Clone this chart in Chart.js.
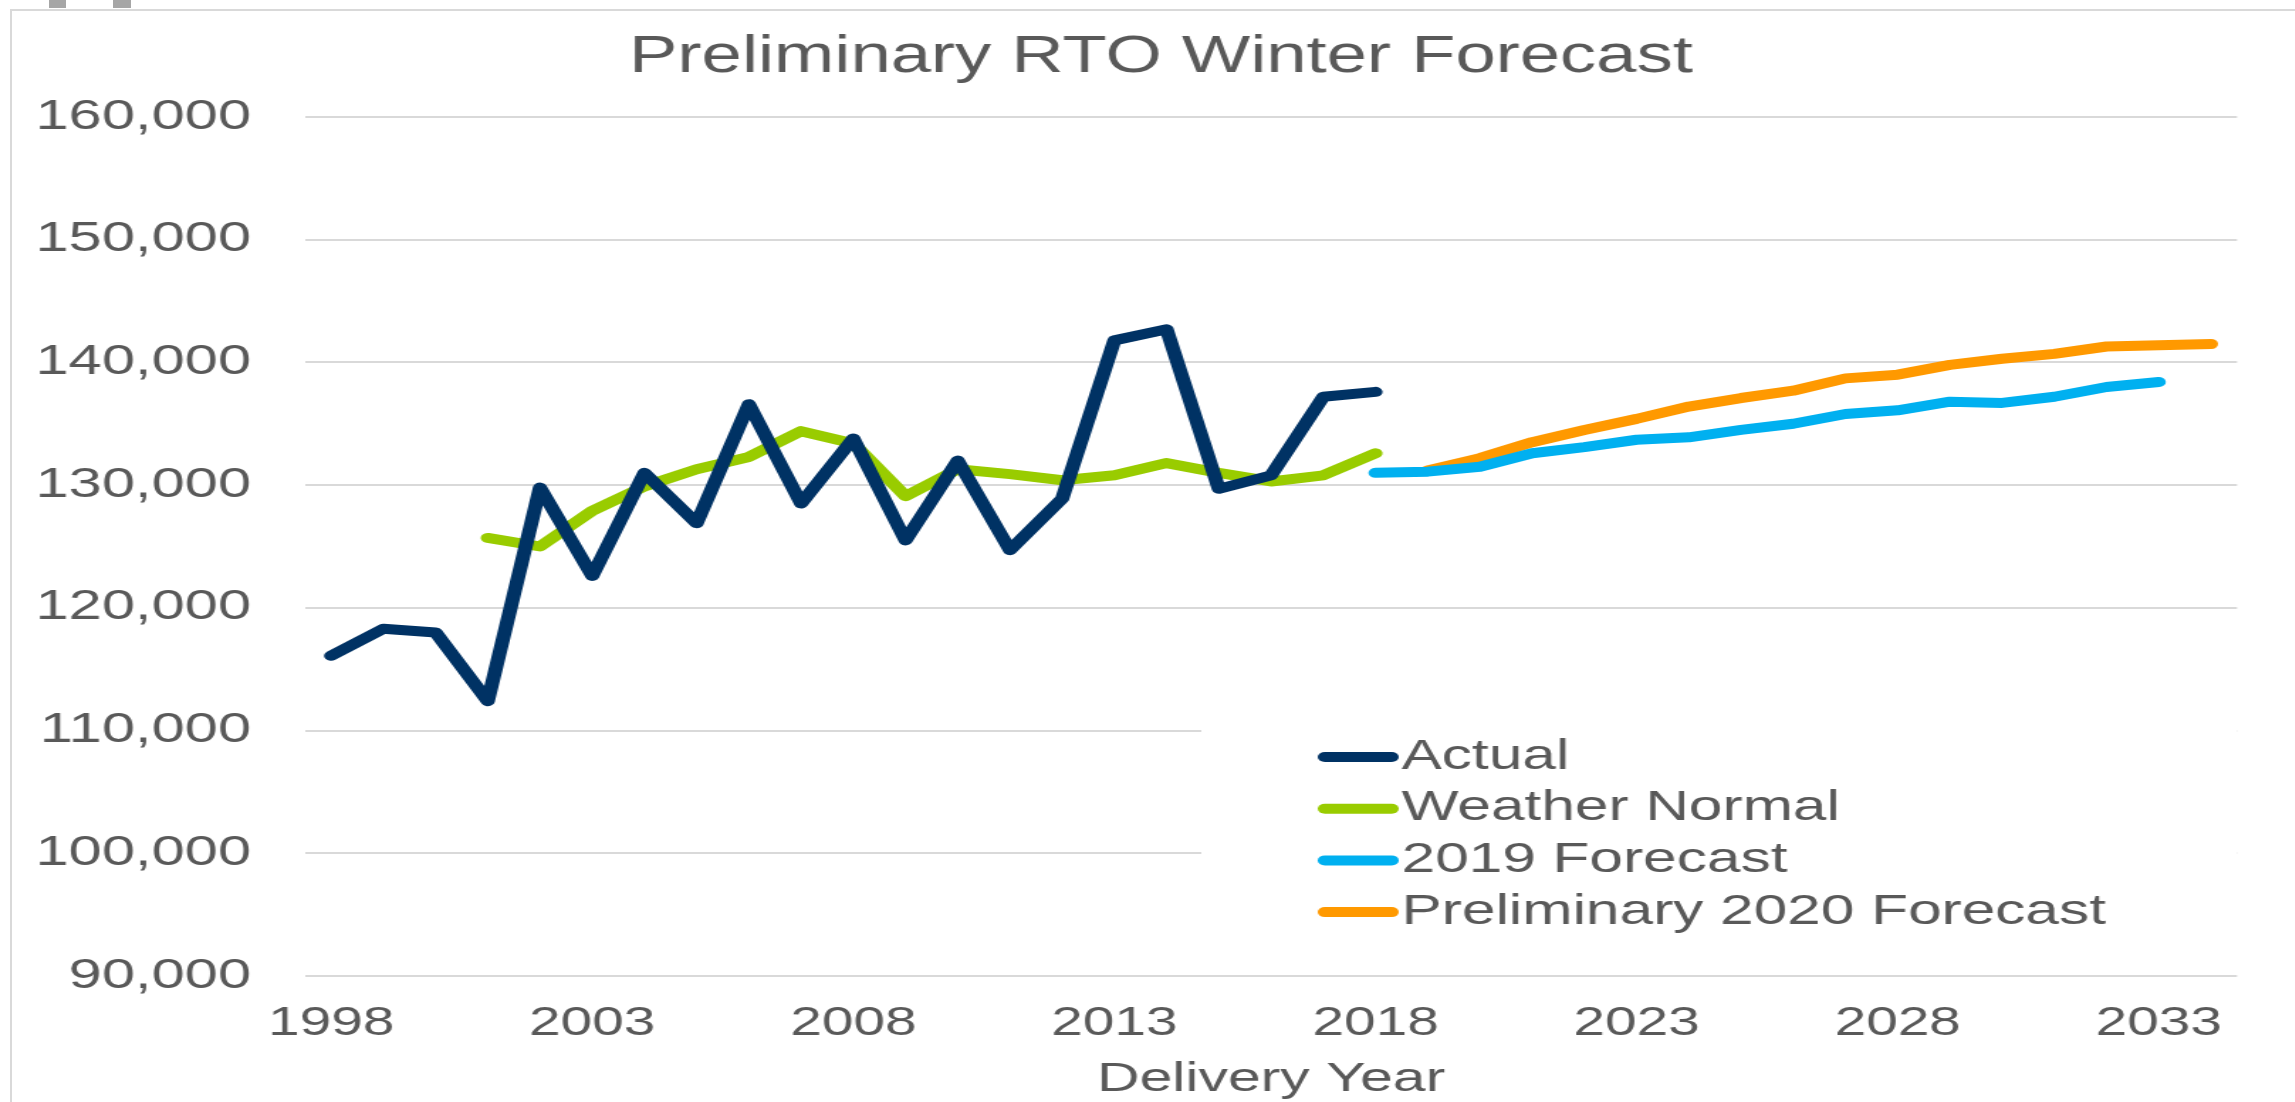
<!DOCTYPE html>
<html lang="en">
<head>
    <meta charset="UTF-8">
    <title>Preliminary RTO Winter Forecast</title>
    <script src="https://cdn.jsdelivr.net/npm/chart.js"></script>
    <style>
        html, body { margin: 0; padding: 0; background: #fff; overflow: hidden; }
        /* light frame of the slide object */
        .frame { position: absolute; left: 10px; top: 9px; width: 2300px; height: 1100px;
                 border-left: 2px solid #d9d9d9; border-top: 2px solid #d9d9d9; }
        .bar { position: absolute; top: 0; height: 8px; background: #a6a6a6; }
        /* the source picture is stretched sideways, so the chart is too */
        .chart-container { position: absolute; left: 0; top: 0; width: 1616px; height: 1102px;
                           transform: scaleX(1.42); transform-origin: 0 0; }
    </style>
</head>
<body>
    <div class="frame"></div>
    <div class="bar" style="left:49px; width:17px;"></div>
    <div class="bar" style="left:113px; width:18px;"></div>
    <div class="chart-container">
        <canvas id="winterChart"></canvas>
    </div>

    <script>
        // Delivery years on the x axis
        const years = ['1998', '1999', '2000', '2001', '2002', '2003', '2004', '2005', '2006', '2007',
                       '2008', '2009', '2010', '2011', '2012', '2013', '2014', '2015', '2016', '2017',
                       '2018', '2019', '2020', '2021', '2022', '2023', '2024', '2025', '2026', '2027',
                       '2028', '2029', '2030', '2031', '2032', '2033', '2034'];
        const tickYears = ['1998', '2003', '2008', '2013', '2018', '2023', '2028', '2033'];

        // Actual, from 1998
        const actual = [116100, 118300, 118000, 112400, 129800, 122600, 131000, 126900, 136600, 128500,
                        133800, 125500, 132000, 124700, 128900, 141800, 142700, 129700, 130800, 137200,
                        137600];
        // Weather Normal, from 2001
        const weatherNormal = [125700, 125000, 127900, 129900, 131300, 132300, 134400, 133400, 129100,
                               131300, 130900, 130400, 130800, 131800, 131000, 130300, 130800, 132600];
        // 2019 Forecast, from 2018
        const forecast2019 = [131000, 131100, 131500, 132600, 133100, 133700, 133900, 134500, 135000,
                              135800, 136100, 136800, 136700, 137200, 138000, 138400];
        // Preliminary 2020 Forecast, from 2019
        const forecast2020 = [131200, 132200, 133500, 134500, 135400, 136400, 137100, 137700, 138700,
                              139000, 139800, 140300, 140700, 141300, 141400, 141500];

        // put a series on the year axis starting at a given year
        function fromYear(start, values) {
            const out = years.map(() => null);
            const i = years.indexOf(start);
            values.forEach((v, k) => { out[i + k] = v; });
            return out;
        }

        const textColor = '#595959';
        const fontFamily = "'Liberation Sans', Arial, sans-serif";

        // legend sits inside the plot, lower right, on a white box
        const legendBox = {
            id: 'legendBox',
            beforeDatasetsDraw(chart) {
                const ctx = chart.ctx;
                ctx.save();
                ctx.fillStyle = '#fff';
                ctx.fillRect(846, 700, chart.chartArea.right - 846, 255);
                ctx.restore();
            },
            afterDraw(chart) {
                const ctx = chart.ctx;
                ctx.save();
                ctx.font = '42.5px ' + fontFamily;
                ctx.textBaseline = 'middle';
                ctx.textAlign = 'left';
                chart.data.datasets.forEach((ds, i) => {
                    const y = 757 + i * 51.7;
                    ctx.strokeStyle = ds.borderColor;
                    ctx.lineWidth = 10;
                    ctx.lineCap = 'round';
                    ctx.beginPath();
                    ctx.moveTo(933, y);
                    ctx.lineTo(980, y);
                    ctx.stroke();
                    ctx.fillStyle = textColor;
                    ctx.fillText(ds.label, 987, y);
                });
                ctx.restore();
            }
        };

        const ctx = document.getElementById('winterChart').getContext('2d');
        const winterChart = new Chart(ctx, {
            type: 'line',
            data: {
                labels: years,
                datasets: [
                    { label: 'Actual', data: fromYear('1998', actual), borderColor: '#003264' },
                    { label: 'Weather Normal', data: fromYear('2001', weatherNormal), borderColor: '#99cc00' },
                    { label: '2019 Forecast', data: fromYear('2018', forecast2019), borderColor: '#00b0f0' },
                    { label: 'Preliminary 2020 Forecast', data: fromYear('2019', forecast2020), borderColor: '#ff9900' }
                ]
            },
            options: {
                responsive: true,
                maintainAspectRatio: false,
                animation: false,
                layout: { padding: { left: 25, right: 5.8, top: 0, bottom: 0 } },
                elements: {
                    point: { radius: 0, hoverRadius: 0 },
                    line: { borderWidth: 10, borderCapStyle: 'round', borderJoinStyle: 'round', tension: 0, fill: false }
                },
                scales: {
                    x: {
                        offset: true,
                        grid: { display: false, drawTicks: false },
                        border: { display: false },
                        ticks: {
                            autoSkip: false,
                            maxRotation: 0,
                            padding: 24,
                            color: textColor,
                            font: { family: fontFamily, size: 40 },
                            callback: (value, index) => tickYears.includes(years[index]) ? years[index] : ''
                        },
                        title: {
                            display: true,
                            text: 'Delivery Year',
                            color: textColor,
                            font: { family: fontFamily, size: 41.5, lineHeight: 1.1 },
                            padding: { top: 0, bottom: 0 }
                        },
                        afterFit(scale) { scale.height = 126; }
                    },
                    y: {
                        min: 90000,
                        max: 160000,
                        grid: { color: '#d9d9d9', lineWidth: 2, drawTicks: false },
                        border: { display: false },
                        ticks: {
                            stepSize: 10000,
                            padding: 38,
                            color: textColor,
                            font: { family: fontFamily, size: 42 },
                            callback: value => value.toLocaleString('en-US')
                        },
                        afterFit(scale) { scale.width = 189.8; }
                    },
                    // empty strip on the right so the title stays centred where it was
                    yRight: {
                        type: 'linear',
                        position: 'right',
                        grid: { display: false, drawTicks: false },
                        border: { display: false },
                        ticks: { display: false },
                        afterFit(scale) { scale.width = 34.8; }
                    }
                },
                plugins: {
                    legend: { display: false },
                    tooltip: { enabled: false },
                    title: {
                        display: true,
                        text: 'Preliminary RTO Winter Forecast',
                        color: textColor,
                        font: { family: fontFamily, size: 51, weight: 'normal' },
                        padding: { top: 27.6, bottom: 28.2 }
                    }
                }
            },
            plugins: [legendBox]
        });
    </script>
</body>
</html>
